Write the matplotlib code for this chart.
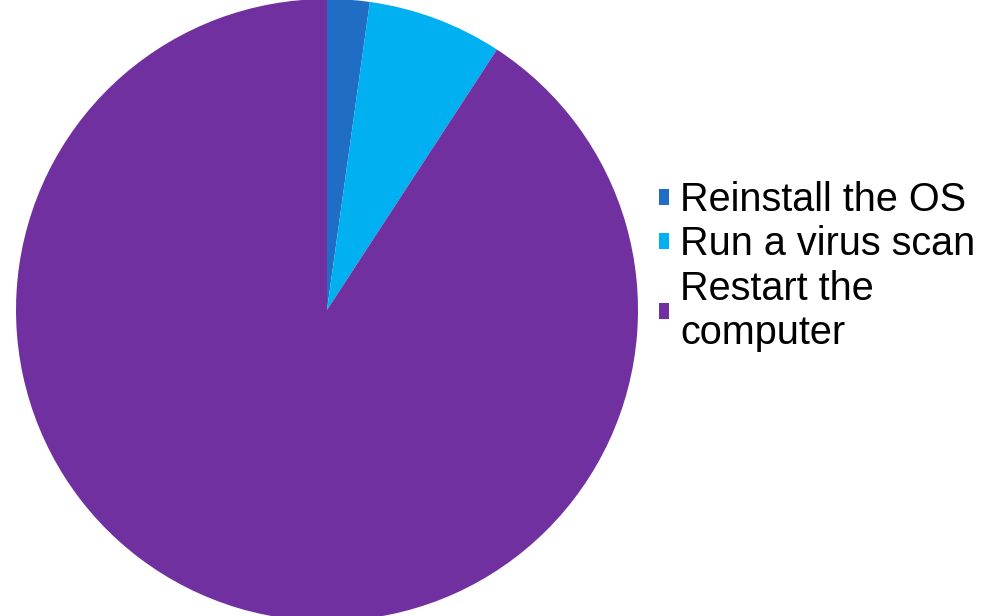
import matplotlib
matplotlib.use("Agg")
import matplotlib.pyplot as plt
from matplotlib.patches import Patch

plt.rcParams["font.family"] = ["Liberation Sans", "DejaVu Sans"]

# Data (percent shares)
labels = ["Reinstall the OS", "Run a virus scan", "Restart the\ncomputer"]
shares = [2.2, 7.0, 90.8]
colors = ["#1F6DC4", "#00B0F0", "#7030A0"]

W, H = 994, 616
fig = plt.figure(figsize=(W / 100, H / 100), dpi=100)

# pie centred around (327, 310) px with radius ~311 px
cx, cy, r = 327, 310, 311
ax = fig.add_axes([(cx - r) / W, (H - cy - r) / H, 2 * r / W, 2 * r / H])
ax.pie(shares, colors=colors, startangle=90, counterclock=False,
       radius=1.0, wedgeprops={"linewidth": 0})
ax.set_xlim(-1, 1)
ax.set_ylim(-1, 1)
ax.set_aspect("equal")
ax.axis("off")

handles = [Patch(facecolor=c, edgecolor="none") for c in colors]
fig.legend(handles, labels, loc="upper left",
           bbox_to_anchor=(659 / W, 1 - 181 / H),
           frameon=False, fontsize=28.5,
           handlelength=0.25, handleheight=0.25, handletextpad=0.28,
           labelspacing=0.16, borderaxespad=0, borderpad=0)

fig.savefig("out.png", dpi=100)
